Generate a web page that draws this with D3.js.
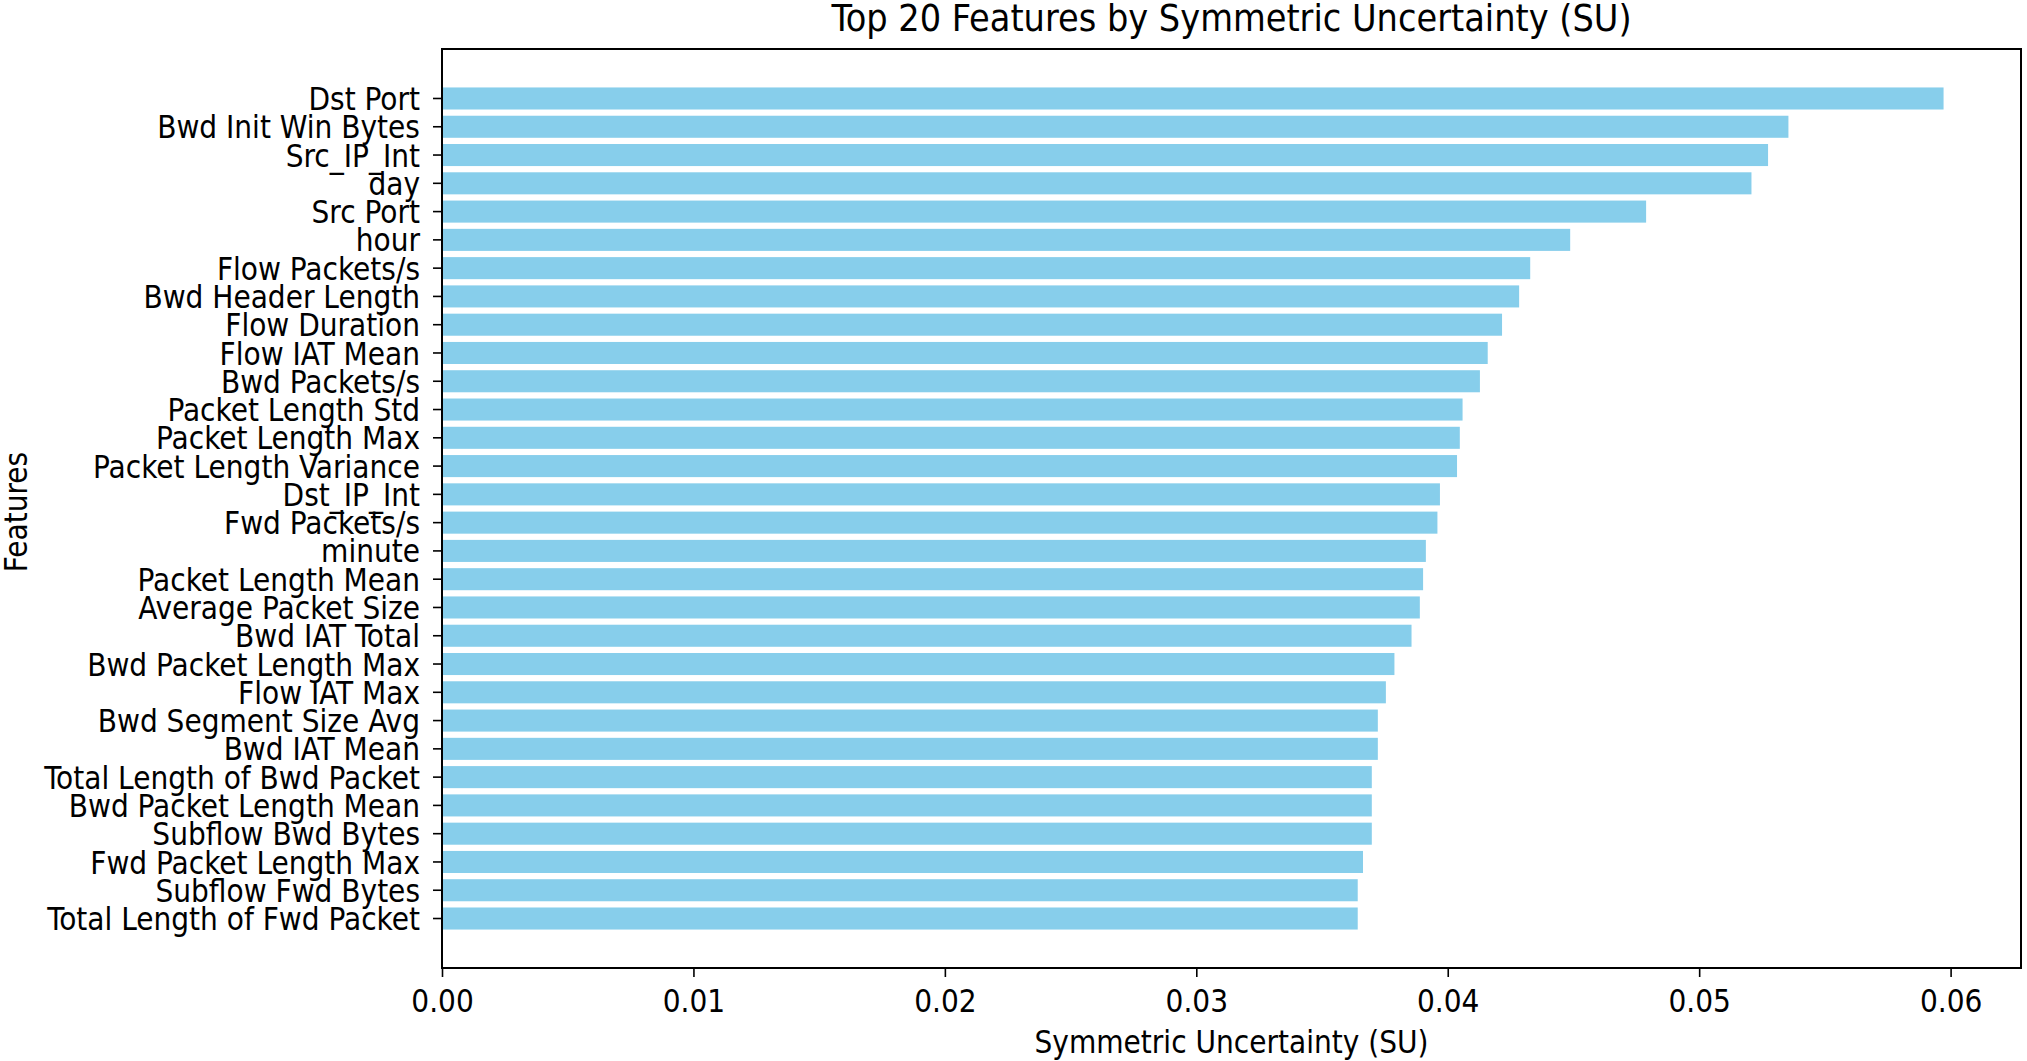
<!DOCTYPE html>
<html>
<head>
<meta charset="utf-8">
<script src="https://cdn.jsdelivr.net/npm/d3@7"></script>
<style>
  html, body { margin: 0; padding: 0; background: #fff; }
  svg { display: block; }
</style>
</head>
<body>
<div id="main"></div>
<script>
// feature names, top to bottom
const features = [
  'Dst Port', 'Bwd Init Win Bytes', 'Src_IP_Int', 'day', 'Src Port', 'hour',
  'Flow Packets/s', 'Bwd Header Length', 'Flow Duration', 'Flow IAT Mean',
  'Bwd Packets/s', 'Packet Length Std', 'Packet Length Max', 'Packet Length Variance',
  'Dst_IP_Int', 'Fwd Packets/s', 'minute', 'Packet Length Mean', 'Average Packet Size',
  'Bwd IAT Total', 'Bwd Packet Length Max', 'Flow IAT Max', 'Bwd Segment Size Avg',
  'Bwd IAT Mean', 'Total Length of Bwd Packet', 'Bwd Packet Length Mean',
  'Subflow Bwd Bytes', 'Fwd Packet Length Max', 'Subflow Fwd Bytes', 'Total Length of Fwd Packet'
];

// symmetric uncertainty
const suValues = [
  0.05972, 0.05355, 0.05274, 0.05208, 0.04789, 0.04487,
  0.04328, 0.04284, 0.04216, 0.04159,
  0.04128, 0.04059, 0.04048, 0.04037,
  0.03969, 0.03959, 0.03913, 0.03902, 0.03889,
  0.03856, 0.03788, 0.03754, 0.03722,
  0.03722, 0.03698, 0.03698,
  0.03698, 0.03663, 0.03642, 0.03642
];

const xTicks = [0, 0.01, 0.02, 0.03, 0.04, 0.05, 0.06];

const titleText = 'Top 20 Features by Symmetric Uncertainty (SU)';
const xLabelText = 'Symmetric Uncertainty (SU)';
const yLabelText = 'Features';

const width = 2027, height = 1061;
const margin = { top: 49, right: 6, bottom: 93, left: 442 };

const svg = d3.select('#main')
  .append('svg')
  .attr('width', width)
  .attr('height', height);

// use the condensed face when it is there, the picture's text is a bit narrow
function textWidth(family) {
  const t = svg.append('text')
    .style('font-family', family)
    .style('font-size', '100px')
    .text('Packet Length Variance');
  const w = t.node().getComputedTextLength();
  t.remove();
  return w;
}
const wNormal = textWidth('DejaVu Sans');
const wCond = textWidth('DejaVu Sans Condensed');
let family = 'DejaVu Sans';
let baseWidth = wNormal;
if (wCond < wNormal * 0.97) {
  family = 'DejaVu Sans Condensed';
  baseWidth = wCond;
}
const fontSize = 327 / baseWidth * 100;
const titleSize = fontSize * 1.2;

const data = features.map((f, i) => ({ name: f, value: suValues[i] }));

const xScale = d3.scaleLinear()
  .domain([0, 0.0628])
  .range([margin.left, width - margin.right]);

const yScale = d3.scaleBand()
  .domain(features)
  .range([margin.top, height - margin.bottom])
  .paddingInner(0.22)
  .paddingOuter(1.36);

// bars
svg.append('g')
  .selectAll('rect')
  .data(data)
  .join('rect')
    .attr('x', xScale(0))
    .attr('y', d => yScale(d.name))
    .attr('width', d => xScale(d.value) - xScale(0))
    .attr('height', yScale.bandwidth())
    .attr('fill', '#87ceeb');

// axes
const xAxis = d3.axisBottom(xScale)
  .tickValues(xTicks)
  .tickFormat(d3.format('.2f'))
  .tickSize(9)
  .tickPadding(13);

const yAxis = d3.axisLeft(yScale)
  .tickSize(9)
  .tickPadding(13);

const gx = svg.append('g')
  .attr('transform', `translate(0,${height - margin.bottom})`)
  .call(xAxis);

const gy = svg.append('g')
  .attr('transform', `translate(${margin.left},0)`)
  .call(yAxis);

[gx, gy].forEach(g => {
  g.select('.domain').remove();
  g.selectAll('.tick line').attr('stroke', '#000').attr('stroke-width', 1.6);
  g.selectAll('.tick text')
    .attr('fill', '#000')
    .style('font-family', family)
    .style('font-size', fontSize + 'px');
});
gy.selectAll('.tick text').attr('dy', '0.37em');

// frame
svg.append('rect')
  .attr('x', margin.left)
  .attr('y', margin.top)
  .attr('width', width - margin.right - margin.left)
  .attr('height', height - margin.bottom - margin.top)
  .attr('fill', 'none')
  .attr('stroke', '#000')
  .attr('stroke-width', 2);

// labels
svg.append('text')
  .attr('x', (margin.left + width - margin.right) / 2)
  .attr('y', 31)
  .attr('text-anchor', 'middle')
  .style('font-family', family)
  .style('font-size', titleSize + 'px')
  .text(titleText);

svg.append('text')
  .attr('x', (margin.left + width - margin.right) / 2)
  .attr('y', 1053)
  .attr('text-anchor', 'middle')
  .style('font-family', family)
  .style('font-size', fontSize + 'px')
  .text(xLabelText);

svg.append('text')
  .attr('transform', 'rotate(-90)')
  .attr('x', -512)
  .attr('y', 27)
  .attr('text-anchor', 'middle')
  .style('font-family', family)
  .style('font-size', fontSize + 'px')
  .text(yLabelText);
</script>
</body>
</html>
